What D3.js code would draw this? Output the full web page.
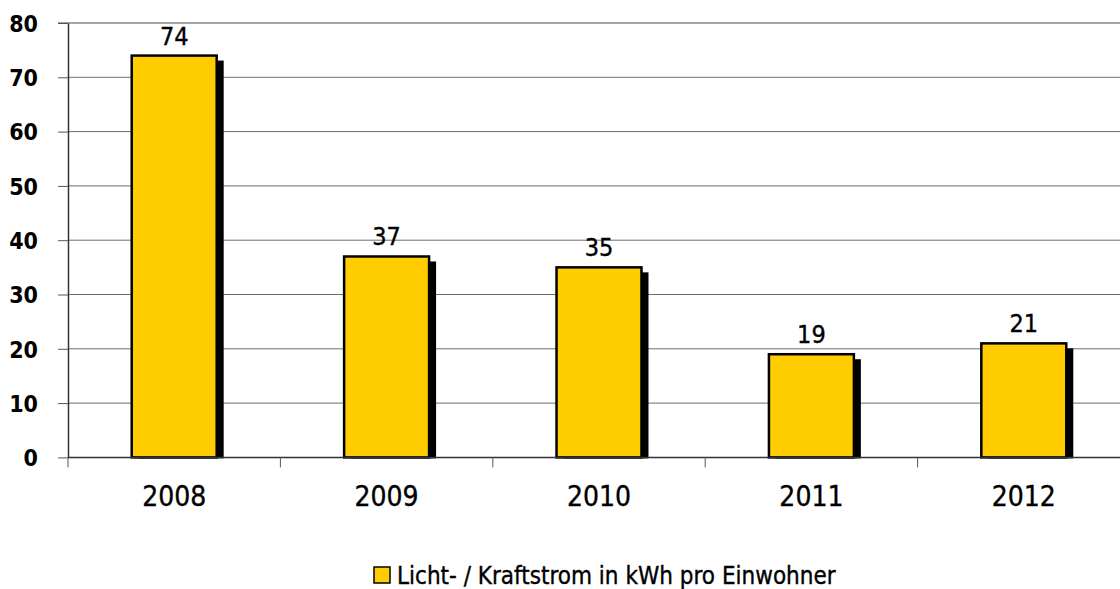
<!DOCTYPE html>
<html>
<head>
<meta charset="utf-8">
<script src="https://cdn.jsdelivr.net/npm/d3@7"></script>
<style>
  html, body { margin: 0; padding: 0; background: #fff; }
  svg text { font-family: "Liberation Sans Narrow", "DejaVu Sans Condensed", "Liberation Sans", sans-serif; fill: #000; }
  svg text.medium { stroke: #000; stroke-width: 0.35px; }
</style>
</head>
<body>
<svg id="chart" width="1120" height="589"></svg>
<script>
// Per-capita light and power consumption by year
const years = ["2008", "2009", "2010", "2011", "2012"];
const values = [74, 37, 35, 19, 21];
const yTicks = [0, 10, 20, 30, 40, 50, 60, 70, 80];
const seriesName = "Licht- / Kraftstrom in kWh pro Einwohner";

(function draw() {
  const svg = d3.select("#chart");
  const plotLeft = 68, plotTop = 23, plotBottom = 457.4;
  const step = 212.4;

  const x = d3.scaleBand()
    .domain(years)
    .range([plotLeft, plotLeft + step * years.length])
    .paddingInner(0.6)
    .paddingOuter(0.3);

  const y = d3.scaleLinear().domain([0, 80]).range([plotBottom, plotTop]);

  // horizontal gridlines
  svg.append("g")
    .selectAll("line")
    .data(yTicks.filter(d => d > 0 && d < 80))
    .join("line")
    .attr("x1", plotLeft).attr("x2", 1120)
    .attr("y1", d => y(d)).attr("y2", d => y(d))
    .attr("stroke", "#6e6e6e").attr("stroke-width", 1);

  // top border of the plot area
  svg.append("line")
    .attr("x1", plotLeft - 10).attr("x2", 1120)
    .attr("y1", y(80)).attr("y2", y(80))
    .attr("stroke", "#a6a6a6").attr("stroke-width", 2);

  // y axis
  const yAxis = svg.append("g")
    .attr("transform", `translate(${plotLeft},0)`)
    .call(d3.axisLeft(y).tickValues(yTicks).tickSize(10).tickPadding(20).tickSizeOuter(0));
  yAxis.select(".domain").attr("stroke", "#333").attr("stroke-width", 1.5);
  yAxis.selectAll(".tick line").attr("stroke", "#555").attr("stroke-width", 1);
  yAxis.selectAll(".tick text")
    .style("font-size", "23px").style("font-weight", "bold")
    .attr("dy", "0.36em");

  // bars with drop shadow
  const bars = svg.append("g");
  bars.selectAll("rect.shadow")
    .data(values)
    .join("rect")
    .attr("class", "shadow")
    .attr("x", (d, i) => x(years[i]) + 7)
    .attr("y", d => y(d) + 5)
    .attr("width", x.bandwidth())
    .attr("height", d => plotBottom + 1 - (y(d) + 5))
    .attr("fill", "#000");

  bars.selectAll("rect.bar")
    .data(values)
    .join("rect")
    .attr("class", "bar")
    .attr("x", (d, i) => x(years[i]))
    .attr("y", d => y(d))
    .attr("width", x.bandwidth())
    .attr("height", d => plotBottom - y(d))
    .attr("fill", "#FFCC00")
    .attr("stroke", "#000")
    .attr("stroke-width", 2.5);

  // value labels
  svg.append("g")
    .selectAll("text")
    .data(values)
    .join("text")
    .attr("class", "medium")
    .attr("x", (d, i) => x(years[i]) + x.bandwidth() / 2)
    .attr("y", d => y(d) - 11)
    .attr("text-anchor", "middle")
    .style("font-size", "25px")
    .text(d => d);

  // x axis baseline, ticks at category boundaries
  svg.append("line")
    .attr("x1", plotLeft).attr("x2", 1120)
    .attr("y1", plotBottom).attr("y2", plotBottom)
    .attr("stroke", "#333").attr("stroke-width", 1.5);

  const xAxis = svg.append("g")
    .attr("transform", `translate(0,${plotBottom})`)
    .call(d3.axisBottom(x).tickSize(0).tickPadding(40));
  xAxis.select(".domain").remove();
  xAxis.selectAll(".tick text")
    .attr("class", "medium")
    .style("font-size", "28px").attr("dy", "0.3em");

  svg.append("g")
    .selectAll("line")
    .data(d3.range(years.length))
    .join("line")
    .attr("x1", i => plotLeft + i * x.step()).attr("x2", i => plotLeft + i * x.step())
    .attr("y1", plotBottom).attr("y2", plotBottom + 10)
    .attr("stroke", "#555").attr("stroke-width", 1);

  // legend
  const legend = svg.append("g").attr("transform", "translate(374,567)");
  legend.append("rect")
    .attr("width", 16).attr("height", 16)
    .attr("fill", "#FFCC00").attr("stroke", "#000").attr("stroke-width", 1.5);
  legend.append("text")
    .attr("class", "medium")
    .attr("x", 23).attr("y", 17)
    .style("font-size", "24px")
    .text(seriesName);
})();
</script>
</body>
</html>
